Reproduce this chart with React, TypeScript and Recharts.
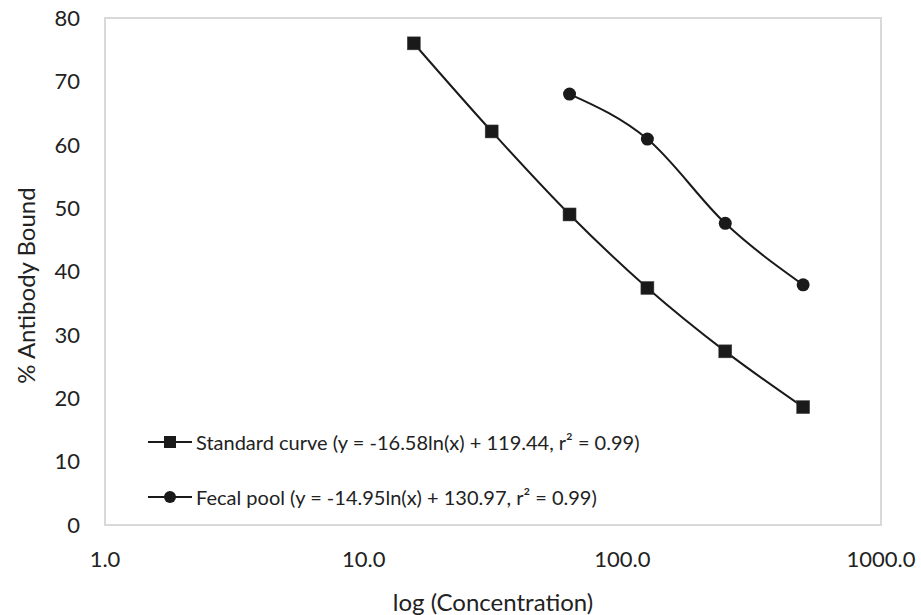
import React from 'react';
import { LineChart, Line, XAxis, YAxis, Legend, ReferenceArea } from 'recharts';

const standardConc = [15.625, 31.25, 62.5, 125, 250, 500];
const standardBound = [76.0, 62.1, 49.0, 37.4, 27.4, 18.6];
const fecalConc = [62.5, 125, 250, 500];
const fecalBound = [68.0, 60.9, 47.6, 37.9];
const xTicks = [1, 10, 100, 1000];
const yTicks = [0, 10, 20, 30, 40, 50, 60, 70, 80];
const standardLabel = 'Standard curve (y = -16.58ln(x) + 119.44, r\u00B2 = 0.99)';
const fecalLabel = 'Fecal pool (y = -14.95ln(x) + 130.97, r\u00B2 = 0.99)';

const standardData = standardConc.map((x, i) => ({ x, y: standardBound[i] }));
const fecalData = fecalConc.map((x, i) => ({ x, y: fecalBound[i] }));

const FONT = 'Lato, "Open Sans", sans-serif';
const INK = '#1a1a1a';

const SquareDot = (props: any) => {
  const { cx, cy } = props;
  if (cx == null || cy == null) return null;
  return <rect x={cx - 6.5} y={cy - 6.5} width={13} height={13} fill={INK} stroke="#444" strokeWidth={0.5} />;
};

const CircleDot = (props: any) => {
  const { cx, cy } = props;
  if (cx == null || cy == null) return null;
  return <circle cx={cx} cy={cy} r={6.5} fill={INK} />;
};

const YTitle = (props: any) => {
  const vb = props.viewBox || {};
  const cx = (vb.x || 0) + 25;
  const cy = (vb.y || 0) + (vb.height || 0) / 2 + 14;
  return (
    <text x={cx} y={cy} transform={`rotate(-90 ${cx} ${cy})`} textAnchor="middle" dominantBaseline="central"
      fontFamily={FONT} fontSize={24} fill="#222">
      % Antibody Bound
    </text>
  );
};

const LegendContent = () => {
  const row = (label: string, marker: 'square' | 'circle') => (
    <div style={{ display: 'flex', alignItems: 'center', height: 24 }}>
      <svg width={48} height={24} style={{ display: 'block' }}>
        <line x1={0} y1={12} x2={44} y2={12} stroke={INK} strokeWidth={2} />
        {marker === 'square' ? (
          <rect x={16} y={6} width={12} height={12} fill={INK} />
        ) : (
          <circle cx={22} cy={12} r={6} fill={INK} />
        )}
      </svg>
      <span style={{ fontFamily: FONT, fontSize: 20, color: '#222', whiteSpace: 'nowrap' }}>{label}</span>
    </div>
  );
  return (
    <div style={{ display: 'flex', flexDirection: 'column', gap: 31 }}>
      {row(standardLabel, 'square')}
      {row(fecalLabel, 'circle')}
    </div>
  );
};

export default function App() {
  return (
    <div style={{ position: 'absolute', left: 0, top: 0, width: 921, height: 615, background: '#fff' }}>
      <LineChart width={921} height={615} margin={{ top: 18, right: 40, left: 0, bottom: 0 }}>
        <XAxis
          type="number"
          dataKey="x"
          scale="log"
          domain={[1, 1000]}
          ticks={xTicks}
          allowDataOverflow
          tickFormatter={(v: number) => v.toFixed(1)}
          axisLine={false}
          tickLine={false}
          tickSize={0}
          tickMargin={26}
          height={90}
          tick={{ fontFamily: FONT, fontSize: 22, fill: '#222' }}
          label={{ value: 'log (Concentration)', position: 'insideBottom', offset: 4, fontFamily: FONT, fontSize: 24, fill: '#222' }}
        />
        <YAxis
          type="number"
          domain={[0, 80]}
          ticks={yTicks}
          axisLine={false}
          tickLine={false}
          tickSize={0}
          tickMargin={25}
          width={105}
          tick={{ fontFamily: FONT, fontSize: 22, fill: '#222' }}
          label={<YTitle />}
        />
        <ReferenceArea x1={1} x2={1000} y1={0} y2={80} fill="none" stroke="#d9d9d9" strokeWidth={2} ifOverflow="visible" />
        <Legend
          content={<LegendContent />}
          wrapperStyle={{ position: 'absolute', left: 148, top: 430, width: 'auto', height: 0, overflow: 'visible' }}
        />
        <Line data={standardData} dataKey="y" type="monotone" stroke={INK} strokeWidth={2} dot={<SquareDot />} activeDot={false} isAnimationActive={false} legendType="square" name="Standard" />
        <Line data={fecalData} dataKey="y" type="monotone" stroke={INK} strokeWidth={2} dot={<CircleDot />} activeDot={false} isAnimationActive={false} legendType="circle" name="Fecal" />
      </LineChart>
    </div>
  );
}
